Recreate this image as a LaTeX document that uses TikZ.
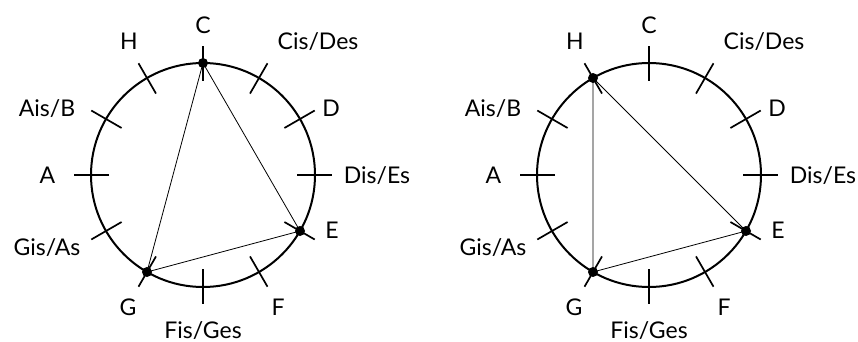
\documentclass[tikz,border=0pt]{standalone}
\usepackage{fontspec}
\setmainfont{Lato}
\usetikzlibrary{calc}
\newcommand\notelabels[1]{%
  \node[lbl] (#1-C)   at ($(#1)+(0,-141.7)$)    {C};
  \node[lbl] (#1-Cis) at ($(#1)+(115,-125)$)    {Cis/Des};
  \node[lbl] (#1-D)   at ($(#1)+(128,-58.3)$)   {D};
  \node[lbl] (#1-Dis) at ($(#1)+(174,8.3)$)     {Dis/Es};
  \node[lbl] (#1-E)   at ($(#1)+(129,63.3)$)    {E};
  \node[lbl] (#1-F)   at ($(#1)+(75,140)$)      {F};
  \node[lbl] (#1-Fis) at ($(#1)+(0,163.3)$)     {Fis/Ges};
  \node[lbl] (#1-G)   at ($(#1)+(-75,140)$)     {G};
  \node[lbl] (#1-Gis) at ($(#1)+(-156,80)$)     {Gis/As};
  \node[lbl] (#1-A)   at ($(#1)+(-155.5,8.3)$)  {A};
  \node[lbl] (#1-Ais) at ($(#1)+(-156,-58.3)$)  {Ais/B};
  \node[lbl] (#1-H)   at ($(#1)+(-74,-125)$)    {H};
}
\begin{document}
\begin{tikzpicture}[x=1pt,y=-1pt,
  circ/.style={line width=2pt},
  tickline/.style={line width=1.7pt},
  chord/.style={line width=0.8pt},
  dot/.style={circle,fill=black,inner sep=0pt,minimum size=10pt},
  lbl/.style={anchor=base,font=\fontsize{23}{23}\selectfont,inner sep=0pt}]
\useasboundingbox (0,0) rectangle (858,342);
\coordinate (L) at (203,175);
\coordinate (R) at (649,175);
\foreach \p in {L,R}{
  \draw[circ] (\p) circle[radius=112];
  \foreach \a in {0,30,...,330}
    \draw[tickline] ($(\p)+(-\a:94)$) -- ($(\p)+(-\a:129)$);
  \notelabels{\p}
}
% left: C, E, G
\coordinate (pLC) at ($(L)+(-90:112)$);
\coordinate (pLE) at ($(L)+(30:112)$);
\coordinate (pLG) at ($(L)+(120:112)$);
\draw[chord] (pLC) -- (pLE) -- (pLG) -- cycle;
\node[dot] (dLC) at (pLC) {};
\node[dot] (dLE) at (pLE) {};
\node[dot] (dLG) at (pLG) {};
% right: H, E, G
\coordinate (pRH) at ($(R)+(-120:112)$);
\coordinate (pRE) at ($(R)+(30:112)$);
\coordinate (pRG) at ($(R)+(120:112)$);
\draw[chord] (pRH) -- (pRE) -- (pRG) -- cycle;
\node[dot] (dRH) at (pRH) {};
\node[dot] (dRE) at (pRE) {};
\node[dot] (dRG) at (pRG) {};
\end{tikzpicture}
\end{document}
